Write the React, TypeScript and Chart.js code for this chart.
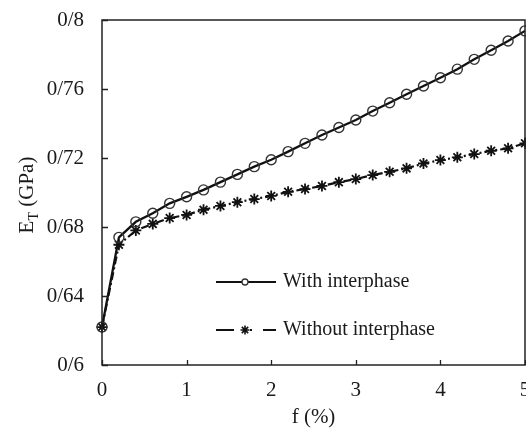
import React, { useEffect, useRef } from "react";
import { Chart, registerables } from "chart.js";

Chart.register(...registerables);

const xValues = [0, 0.2, 0.4, 0.6, 0.8, 1.0, 1.2, 1.4, 1.6, 1.8, 2.0, 2.2, 2.4, 2.6, 2.8, 3.0, 3.2, 3.4, 3.6, 3.8, 4.0, 4.2, 4.4, 4.6, 4.8, 5.0];

const withInterphase = [0.622, 0.674, 0.683, 0.688, 0.6937, 0.6975, 0.7015, 0.706, 0.7105, 0.715, 0.719, 0.7237, 0.7285, 0.7333, 0.7377, 0.742, 0.7472, 0.752, 0.757, 0.7617, 0.7665, 0.7715, 0.7772, 0.7825, 0.7878, 0.7937];

const withoutInterphase = [0.622, 0.6697, 0.678, 0.6818, 0.6852, 0.687, 0.69, 0.6922, 0.6944, 0.6962, 0.698, 0.7004, 0.702, 0.7038, 0.706, 0.7078, 0.7101, 0.712, 0.714, 0.7168, 0.7188, 0.7204, 0.7223, 0.7242, 0.7256, 0.7285];

const seriesLabels = ["With interphase", "Without interphase"];

const xTickValues = [0, 1, 2, 3, 4, 5];
const xTickLabels = ["0", "1", "2", "3", "4", "5"];
const yTickValues = [0.6, 0.64, 0.68, 0.72, 0.76, 0.8];
const yTickLabels = ["0/6", "0/64", "0/68", "0/72", "0/76", "0/8"];

const xTitle = "f (%)";
const yTitleMain = "E";
const yTitleSub = "T";
const yTitleRest = " (GPa)";

const FONT = "'Liberation Serif', 'DejaVu Serif', serif";
const TEXT = "#1a1a1a";
const INK = "#111";

function drawStar(ctx: CanvasRenderingContext2D, x: number, y: number, r: number) {
  ctx.beginPath();
  for (let k = 0; k < 4; k++) {
    const ang = (k * Math.PI) / 4;
    const dx = Math.cos(ang) * r;
    const dy = Math.sin(ang) * r;
    ctx.moveTo(x - dx, y - dy);
    ctx.lineTo(x + dx, y + dy);
  }
  ctx.stroke();
}

const decor = {
  id: "decor",
  afterDraw(chart: any) {
    const { ctx, chartArea: a, scales } = chart;
    const xs = scales.x;
    const ys = scales.y;
    ctx.save();
    // box
    ctx.strokeStyle = "#222";
    ctx.lineWidth = 1.5;
    ctx.strokeRect(a.left, a.top, a.right - a.left, a.bottom - a.top);
    // inner ticks
    ctx.lineWidth = 1.3;
    ctx.beginPath();
    yTickValues.forEach((v) => {
      const py = Math.round(ys.getPixelForValue(v)) + 0.5;
      ctx.moveTo(a.left, py);
      ctx.lineTo(a.left + 6, py);
    });
    xTickValues.forEach((v) => {
      const px = Math.round(xs.getPixelForValue(v)) + 0.5;
      ctx.moveTo(px, a.bottom);
      ctx.lineTo(px, a.bottom - 5);
    });
    ctx.stroke();

    // x title
    ctx.fillStyle = TEXT;
    ctx.font = `21px ${FONT}`;
    ctx.textAlign = "center";
    ctx.textBaseline = "middle";
    ctx.fillText(xTitle, (a.left + a.right) / 2, 417);

    // y title (rotated with subscript)
    ctx.save();
    ctx.translate(26, 195);
    ctx.rotate(-Math.PI / 2);
    ctx.textAlign = "left";
    ctx.textBaseline = "alphabetic";
    ctx.font = `21px ${FONT}`;
    const wE = ctx.measureText(yTitleMain).width;
    const wR = ctx.measureText(yTitleRest).width;
    ctx.font = `14px ${FONT}`;
    const wT = ctx.measureText(yTitleSub).width;
    const total = wE + wT + wR;
    let cx = -total / 2;
    const base = 7;
    ctx.font = `21px ${FONT}`;
    ctx.fillText(yTitleMain, cx, base);
    cx += wE;
    ctx.font = `14px ${FONT}`;
    ctx.fillText(yTitleSub, cx, base + 5);
    cx += wT;
    ctx.font = `21px ${FONT}`;
    ctx.fillText(yTitleRest, cx, base);
    ctx.restore();

    // legend
    const lx0 = 216;
    const lx1 = 276;
    const mx = 245;
    const ly1 = 282;
    const ly2 = 330;
    ctx.strokeStyle = INK;
    ctx.lineWidth = 2.2;
    ctx.setLineDash([]);
    ctx.beginPath();
    ctx.moveTo(lx0, ly1);
    ctx.lineTo(lx1, ly1);
    ctx.stroke();
    ctx.beginPath();
    ctx.arc(mx, ly1, 3, 0, Math.PI * 2);
    ctx.fillStyle = "#fff";
    ctx.fill();
    ctx.lineWidth = 1.3;
    ctx.strokeStyle = "#333";
    ctx.stroke();

    ctx.strokeStyle = INK;
    ctx.lineWidth = 2.2;
    ctx.beginPath();
    ctx.moveTo(lx0, ly2);
    ctx.lineTo(234, ly2);
    ctx.moveTo(250, ly2);
    ctx.lineTo(252, ly2);
    ctx.moveTo(263, ly2);
    ctx.lineTo(lx1, ly2);
    ctx.stroke();
    ctx.lineWidth = 1.6;
    drawStar(ctx, mx, ly2, 4.5);

    ctx.fillStyle = TEXT;
    ctx.font = `20px ${FONT}`;
    ctx.textAlign = "left";
    ctx.textBaseline = "middle";
    ctx.fillText(seriesLabels[0], 283, ly1);
    ctx.fillText(seriesLabels[1], 283, ly2);
    ctx.restore();
  },
};

export default function App() {
  const ref = useRef<HTMLCanvasElement | null>(null);

  useEffect(() => {
    if (!ref.current) return;
    const chart = new Chart(ref.current, {
      type: "line",
      data: {
        datasets: [
          {
            label: seriesLabels[0],
            data: xValues.map((x, i) => ({ x, y: withInterphase[i] })),
            borderColor: INK,
            borderWidth: 2.3,
            pointStyle: "circle",
            pointRadius: 5,
            pointBorderColor: "#333",
            pointBorderWidth: 1.4,
            pointBackgroundColor: "rgba(0,0,0,0)",
            tension: 0,
            clip: false as any,
          },
          {
            label: seriesLabels[1],
            data: xValues.map((x, i) => ({ x, y: withoutInterphase[i] })),
            borderColor: INK,
            borderWidth: 2.2,
            borderDash: [8, 3, 2, 3],
            pointStyle: "star",
            pointRadius: 5.5,
            pointBorderColor: INK,
            pointBorderWidth: 1.8,
            pointBackgroundColor: INK,
            tension: 0,
            clip: false as any,
          },
        ],
      },
      options: {
        responsive: false,
        animation: false,
        devicePixelRatio: 1,
        layout: { padding: { left: 0, top: 20, right: 35, bottom: 0 } },
        plugins: {
          legend: { display: false },
          tooltip: { enabled: false },
        },
        scales: {
          x: {
            type: "linear",
            min: 0,
            max: 5,
            afterBuildTicks: (s: any) => {
              s.ticks = xTickValues.map((v) => ({ value: v }));
            },
            afterFit: (s: any) => {
              s.height = 65;
              s.paddingLeft = 0;
              s.paddingRight = 0;
            },
            ticks: {
              padding: 13,
              color: TEXT,
              font: { family: FONT, size: 21 },
              maxRotation: 0,
              autoSkip: false,
              callback: (v: any) => {
                const i = xTickValues.indexOf(Number(v));
                return i >= 0 ? xTickLabels[i] : "";
              },
            },
            grid: { display: false, drawTicks: false },
            border: { display: false },
          },
          y: {
            type: "linear",
            min: 0.6,
            max: 0.8,
            afterBuildTicks: (s: any) => {
              s.ticks = yTickValues.map((v) => ({ value: v }));
            },
            afterFit: (s: any) => {
              s.width = 102;
              s.paddingTop = 0;
              s.paddingBottom = 0;
            },
            ticks: {
              padding: 18,
              color: TEXT,
              font: { family: FONT, size: 21 },
              autoSkip: false,
              callback: (v: any) => {
                let best = 0;
                yTickValues.forEach((t, i) => {
                  if (Math.abs(t - Number(v)) < Math.abs(yTickValues[best] - Number(v))) best = i;
                });
                return yTickLabels[best];
              },
            },
            grid: { display: false, drawTicks: false },
            border: { display: false },
          },
        },
      },
      plugins: [decor],
    });
    return () => chart.destroy();
  }, []);

  return (
    <div
      style={{
        position: "absolute",
        left: 0,
        top: 0,
        width: 526,
        height: 430,
        overflow: "hidden",
        background: "#fff",
      }}
    >
      <canvas ref={ref} width={560} height={430} style={{ display: "block" }} />
    </div>
  );
}
